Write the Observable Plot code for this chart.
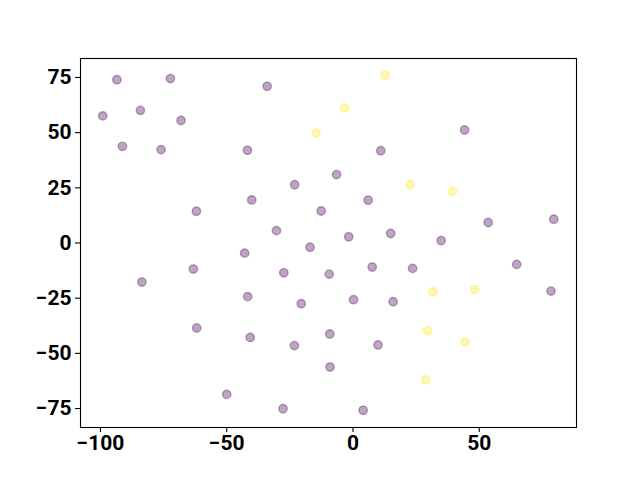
<!DOCTYPE html>
<html>
<head>
<meta charset="utf-8">
<script src="https://cdn.jsdelivr.net/npm/d3@7"></script>
<script src="https://cdn.jsdelivr.net/npm/@observablehq/plot@0.6"></script>
<style>
  html, body { margin: 0; padding: 0; background: #fff; }
  #chart svg { display: block; }
</style>
</head>
<body>
<div id="chart"></div>
<script>
const purpleX = [-93.5, -72.3, -34.0, -99.1, -84.2, -68.1, -91.3, -76.0, -41.8, -23.1, -40.1, -62.0, -12.6, -30.3, -42.9, -17.0, 44.2, 11.0, -6.5, 6.0, 53.5, 79.5, -1.7, 14.9, 34.9, -63.2, -27.4, -9.4, -83.6, -41.7, -20.5, -61.9, -40.7, -23.2, -9.2, -9.1, -50.0, -27.7, 64.8, 7.6, 23.6, 78.4, 0.2, 15.9, 9.9, 4.0];
const purpleY = [74.0, 74.5, 71.0, 57.6, 60.1, 55.5, 43.8, 42.3, 42.0, 26.4, 19.5, 14.4, 14.5, 5.6, -4.6, -1.9, 51.2, 41.8, 31.0, 19.4, 9.3, 10.8, 2.8, 4.3, 1.1, -11.8, -13.5, -14.1, -17.7, -24.3, -27.5, -38.5, -42.8, -46.5, -41.2, -56.2, -68.6, -75.1, -9.7, -10.9, -11.5, -21.8, -25.7, -26.6, -46.2, -75.8];
const yellowX = [12.7, -3.3, -14.6, 22.6, 39.4, 31.6, 48.2, 29.5, 44.4, 28.8];
const yellowY = [76.0, 61.2, 49.9, 26.4, 23.4, -22.1, -21.1, -39.8, -44.8, -62.0];
const groups = ["0", "1"];
const groupColors = ["#440154", "#fde725"];
const xTicks = [-100, -50, 0, 50];
const yTicks = [-75, -50, -25, 0, 25, 50, 75];
const xDomain = [-107.9, 88.5];
const yDomain = [-83.6, 83.6];

const points = [
  ...purpleX.map((x, i) => ({x, y: purpleY[i], g: groups[0]})),
  ...yellowX.map((x, i) => ({x, y: yellowY[i], g: groups[1]}))
];

const fmt = d => d < 0 ? "\u2212" + Math.abs(d) : String(d);

const chart = Plot.plot({
  width: 640,
  height: 480,
  marginLeft: 80,
  marginRight: 64,
  marginTop: 58,
  marginBottom: 53,
  style: {fontFamily: "Roboto, sans-serif", fontSize: "21px", fontWeight: "700", color: "#000", background: "#fff"},
  x: {domain: xDomain},
  y: {domain: yDomain},
  color: {domain: groups, range: groupColors},
  marks: [
    Plot.dot(points, {x: "x", y: "y", r: 4.2, fill: "g", stroke: "g", fillOpacity: 0.35, strokeOpacity: 0.35, strokeWidth: 1.4}),
    Plot.frame({stroke: "#000", strokeWidth: 1.1}),
    Plot.axisX({ticks: xTicks, tickSize: 5, tickPadding: 3, label: null, tickFormat: fmt, strokeWidth: 1.1}),
    Plot.axisY({ticks: yTicks, tickSize: 5, tickPadding: 4, label: null, tickFormat: fmt, strokeWidth: 1.1})
  ]
});
document.getElementById("chart").appendChild(chart);
</script>
</body>
</html>
